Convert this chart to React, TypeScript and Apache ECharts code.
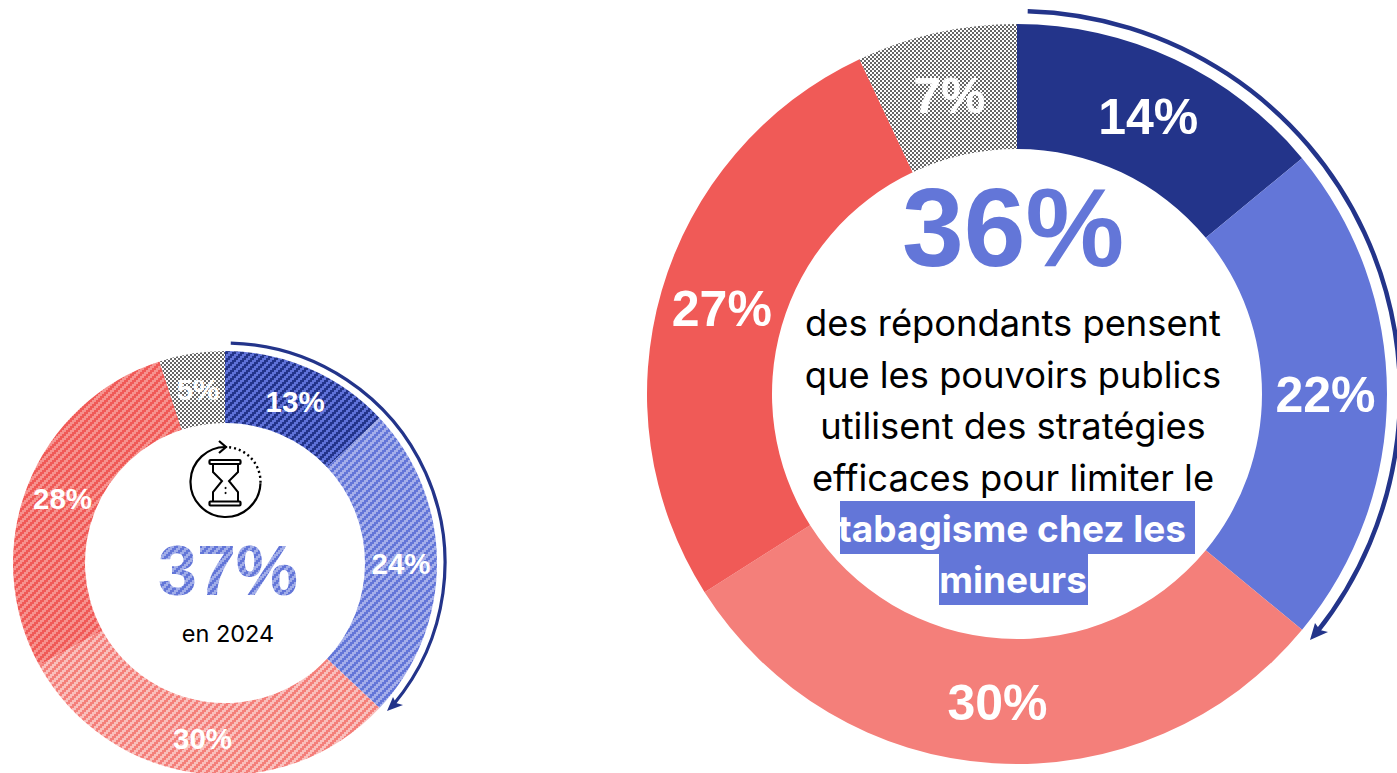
import React, { useEffect, useRef } from "react";
import * as echarts from "echarts";

const categories = ["Tout à fait", "Plutôt", "Plutôt pas", "Pas du tout", "Ne sait pas"];
const values2024 = [13, 24, 30, 28, 5];
const valuesNow = [14, 22, 30, 27, 7];
const solidColors = ["#23348a", "#6376d8", "#f47f7a", "#f05a57"];
const hatchLight = ["#5f72d8", "#a4aeea", "#f9bfbc", "#f6938f"];
const greyA = "#666666";
const greyB = "#ffffff";
const bigNumber = "36%";
const smallNumber = "37%";
const smallCaption = "en 2024";
const bodyLines = ["des répondants pensent", "que les pouvoirs publics", "utilisent des stratégies", "efficaces pour limiter le"];
const highlightLines = ["tabagisme chez les", "mineurs"];
const nudgeSmall = [[-1, 3], [-3, 0], [0, -2], [4, 1], [1, 3]];
const nudgeBig = [[-1, 4], [-2, 1], [0, -1], [3, 2], [0, 5]];

const SANS = "'Liberation Sans', Arial, sans-serif";
const BODY = "Inter, 'Noto Sans', sans-serif";

function hatch(a: string, b: string) {
  const c = document.createElement("canvas");
  c.width = 8; c.height = 8;
  const g = c.getContext("2d")!;
  for (let y = 0; y < 4; y++) for (let x = 0; x < 4; x++) {
    g.fillStyle = (x + y) % 4 < 2 ? a : b;
    g.fillRect(x * 2, y * 2, 2, 2);
  }
  return { image: c, repeat: "repeat" };
}
function checker(a: string, b: string) {
  const c = document.createElement("canvas");
  c.width = 4; c.height = 4;
  const g = c.getContext("2d")!;
  g.fillStyle = b; g.fillRect(0, 0, 4, 4);
  g.fillStyle = a; g.fillRect(0, 0, 2, 2); g.fillRect(2, 2, 2, 2);
  return { image: c, repeat: "repeat" };
}
const rad = (d: number) => (d * Math.PI) / 180;

function pie(center: number[], radius: number[], values: number[], colors: any[], fontSize: number, nudge: number[][]) {
  return {
    type: "pie", center, radius, startAngle: 90, clockwise: true, silent: true,
    avoidLabelOverlap: false, labelLine: { show: false },
    label: { show: true, position: "inside", formatter: "{c}%", color: "#fff", fontFamily: SANS, fontWeight: "bold", fontSize },
    emphasis: { disabled: true },
    data: values.map((value, i) => ({ name: categories[i], value, itemStyle: { color: colors[i] }, label: { offset: nudge[i] } })),
  };
}
const txt = (text: string, x: number, y: number, fontSize: number, fill: string, fontFamily = BODY, fontWeight: any = "normal") => ({
  type: "text", x, y, silent: true,
  style: { text, fontSize, fill, fontFamily, fontWeight, align: "center", verticalAlign: "middle" },
});
const stroke = (color: string, lineWidth: number, extra: any = {}) => ({ stroke: color, fill: "none", lineWidth, ...extra });

export default function App() {
  const ref = useRef<HTMLDivElement>(null);
  useEffect(() => {
    document.body.style.margin = "0";
    const chart = echarts.init(ref.current!, undefined, { renderer: "svg" });
    const grey = checker(greyA, greyB);
    const smallColors = [...solidColors.map((c, i) => hatch(c, hatchLight[i])), grey];
    const bigColors = [...solidColors, grey];
    const navy = solidColors[0];
    const blue = solidColors[1];
    const black = "#000";
    const icon = [
      { type: "arc", shape: { cx: 225.5, cy: 482, r: 35, startAngle: rad(-88), endAngle: rad(2), clockwise: false }, style: stroke(black, 2.2) },
      { type: "arc", shape: { cx: 225.5, cy: 482, r: 35, startAngle: rad(-84), endAngle: rad(2), clockwise: true }, style: stroke(black, 2.4, { lineDash: [2, 3] }) },
      { type: "polyline", shape: { points: [[219, 441], [226, 447], [219, 453]] }, style: stroke(black, 2.2) },
      { type: "rect", shape: { x: 209.5, y: 460, width: 31, height: 4, r: 1 }, style: stroke(black, 2.2) },
      { type: "rect", shape: { x: 209.5, y: 501.5, width: 31, height: 4, r: 1 }, style: stroke(black, 2.2) },
      { type: "polyline", shape: { points: [[213, 465], [213, 472], [222, 481], [213, 492], [213, 501]] }, style: stroke(black, 2) },
      { type: "polyline", shape: { points: [[238, 465], [238, 472], [229, 481], [238, 492], [238, 501]] }, style: stroke(black, 2) },
      { type: "circle", shape: { cx: 225.5, cy: 488, r: 1 }, style: { fill: black } },
      { type: "circle", shape: { cx: 225.5, cy: 493, r: 1 }, style: { fill: black } },
    ];
    chart.setOption({
      animation: false,
      backgroundColor: "#fff",
      series: [
        pie([225, 563], [140, 212], values2024, smallColors, 29.5, nudgeSmall),
        pie([1017, 394], [245, 370], valuesNow, bigColors, 50, nudgeBig),
      ],
      graphic: { elements: [
        { type: "arc", shape: { cx: 1017, cy: 394, r: 383, startAngle: rad(-88.4), endAngle: rad(38.5), clockwise: true }, style: stroke(navy, 4.5) },
        { type: "polygon", shape: { points: [[1310, 640], [1328, 632], [1320, 630], [1315, 623]] }, style: { fill: navy } },
        { type: "arc", shape: { cx: 225, cy: 563, r: 220, startAngle: rad(-88.5), endAngle: rad(40), clockwise: true }, style: stroke(navy, 3.2) },
        { type: "polygon", shape: { points: [[387, 711], [403, 705], [396, 703], [393, 697]] }, style: { fill: navy } },
        txt(bigNumber, 1013, 228, 111, blue, SANS, "bold"),
        ...bodyLines.map((t, i) => txt(t, 1013, 323 + i * 51.5, 36.3, black)),
        { type: "rect", shape: { x: 840, y: 501, width: 355, height: 53 }, style: { fill: blue } },
        { type: "rect", shape: { x: 939, y: 554, width: 149, height: 51 }, style: { fill: blue } },
        ...highlightLines.map((t, i) => txt(t, i === 0 ? 1012 : 1013, 528 + i * 51.5, 37, "#fff", BODY, "bold")),
        ...icon,
        txt(smallNumber, 228, 571, 70, blue, SANS, "bold"),
        { type: "rect", silent: true, shape: { x: 150, y: 540, width: 156, height: 62 }, style: { fill: hatch("rgba(255,255,255,0)", "rgba(255,255,255,0.4)") } },
        txt(smallCaption, 228, 633, 23.5, black),
      ] },
    });
    return () => chart.dispose();
  }, []);
  return <div ref={ref} style={{ width: 1397, height: 773 }} />;
}
